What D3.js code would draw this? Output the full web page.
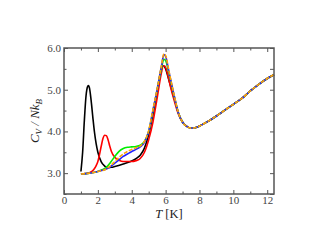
<!DOCTYPE html>
<html>
<head>
<meta charset="utf-8">
<script src="https://cdn.jsdelivr.net/npm/d3@7"></script>
<style>
  body { margin: 0; background: #fff; }
  text { font-family: "Liberation Serif", "DejaVu Serif", serif; }
</style>
</head>
<body>
<script>
//constants
const w = 314;
const h = 243;
const mLeft = 64, mRight = 274, mTop = 48, mBottom = 194;

// shared high-T tail
const tailT = [7.5, 7.75, 8, 8.5, 9, 9.5, 10, 10.5, 11, 11.5, 12, 12.4];
const tailC = [4.08, 4.09, 4.13, 4.24, 4.37, 4.51, 4.65, 4.79, 4.97, 5.13, 5.27, 5.36];

const blackT = [1.0, 1.1, 1.2, 1.3, 1.4, 1.45, 1.5, 1.6, 1.7, 1.8, 1.9, 2.0, 2.2, 2.4, 2.6, 2.8, 3.0, 3.5, 4.0, 4.3, 4.5, 4.75, 5.0, 5.25, 5.5, 5.7, 5.8, 5.9, 6.0, 6.2, 6.5, 6.75, 7.0, 7.25];
const blackC = [3.04, 3.5, 4.25, 4.85, 5.08, 5.1, 5.05, 4.75, 4.35, 3.98, 3.7, 3.5, 3.27, 3.17, 3.13, 3.14, 3.16, 3.22, 3.29, 3.36, 3.43, 3.6, 3.92, 4.4, 4.95, 5.42, 5.57, 5.57, 5.5, 5.22, 4.8, 4.45, 4.23, 4.12];

const redT = [1.0, 1.25, 1.5, 1.75, 1.9, 2.0, 2.1, 2.2, 2.3, 2.4, 2.5, 2.6, 2.7, 2.8, 3.0, 3.25, 3.5, 4.0, 4.25, 4.5, 4.75, 5.0, 5.25, 5.5, 5.75, 5.85, 5.95, 6.1, 6.3, 6.5, 6.75, 7.0, 7.25];
const redC = [2.98, 2.99, 3.01, 3.08, 3.18, 3.28, 3.45, 3.65, 3.83, 3.91, 3.9, 3.8, 3.65, 3.52, 3.38, 3.31, 3.28, 3.28, 3.3, 3.35, 3.5, 3.8, 4.22, 4.8, 5.4, 5.56, 5.57, 5.4, 5.05, 4.75, 4.42, 4.22, 4.12];

const greenT = [1.0, 1.5, 2.0, 2.25, 2.5, 2.75, 3.0, 3.25, 3.5, 3.75, 4.0, 4.25, 4.5, 4.75, 5.0, 5.25, 5.5, 5.75, 5.9, 6.0, 6.2, 6.5, 6.75, 7.0, 7.25];
const greenC = [2.98, 3.0, 3.04, 3.08, 3.14, 3.26, 3.4, 3.52, 3.59, 3.62, 3.63, 3.64, 3.67, 3.76, 4.0, 4.48, 5.0, 5.5, 5.73, 5.7, 5.38, 4.85, 4.45, 4.22, 4.12];

const blueT = [1.0, 1.5, 2.0, 2.5, 2.75, 3.0, 3.25, 3.5, 3.75, 4.0, 4.25, 4.5, 4.75, 5.0, 5.25, 5.5, 5.75, 5.9, 6.0, 6.2, 6.5, 6.75, 7.0, 7.25];
const blueC = [2.98, 3.0, 3.04, 3.1, 3.16, 3.24, 3.32, 3.4, 3.46, 3.52, 3.57, 3.63, 3.74, 4.0, 4.5, 5.0, 5.55, 5.84, 5.8, 5.42, 4.87, 4.45, 4.22, 4.12];

const orangeT = [1.0, 1.5, 2.0, 2.5, 2.75, 3.0, 3.25, 3.5, 3.75, 4.0, 4.25, 4.5, 4.75, 5.0, 5.25, 5.5, 5.75, 5.9, 6.0, 6.2, 6.5, 6.75, 7.0, 7.25];
const orangeC = [2.98, 3.0, 3.04, 3.1, 3.18, 3.28, 3.38, 3.46, 3.52, 3.57, 3.61, 3.65, 3.76, 4.02, 4.52, 5.02, 5.57, 5.86, 5.82, 5.44, 4.88, 4.46, 4.22, 4.12];

const xTicks = [0, 2, 4, 6, 8, 10, 12];
const xMinor = [1, 3, 5, 7, 9, 11];
const yTicks = [3.0, 4.0, 5.0, 6.0];
const yMinor = [2.5, 3.5, 4.5, 5.5];

const series = [
  {T: blackT, C: blackC, color: "#000000", dash: null},
  {T: redT, C: redC, color: "#ff0000", dash: null},
  {T: greenT, C: greenC, color: "#00ee00", dash: null},
  {T: blueT, C: blueC, color: "#2222ff", dash: null},
  {T: orangeT, C: orangeC, color: "#ffa500", dash: "4,1.5"}
];

const xScale = d3.scaleLinear().domain([0, 12.4]).range([mLeft, mRight]);
const yScale = d3.scaleLinear().domain([2.5, 6.0]).range([mBottom, mTop]);

const svg = d3.select("body").append("svg")
  .attr("width", w)
  .attr("height", h);

const line = d3.line()
  .x(d => xScale(d[0]))
  .y(d => yScale(d[1]))
  .curve(d3.curveMonotoneX);

series.forEach(s => {
  const pts = s.T.map((t, i) => [t, s.C[i]]).concat(tailT.map((t, i) => [t, tailC[i]]));
  svg.append("path")
    .datum(pts)
    .attr("d", line)
    .attr("fill", "none")
    .attr("stroke", s.color)
    .attr("stroke-width", 1.6)
    .attr("stroke-dasharray", s.dash);
});

//axes
const axisColor = "#555";
function styleAxis(g) {
  g.attr("font-family", "Liberation Serif, serif");
  g.select(".domain").remove();
  g.selectAll("line").attr("stroke", axisColor).attr("stroke-width", 1);
  g.selectAll("text").attr("fill", "#444").style("font-size", "11px")
    .style("font-family", "'Liberation Serif', serif");
}

svg.append("g").attr("transform", "translate(0," + mBottom + ")")
  .call(d3.axisBottom(xScale).tickValues(xTicks).tickSize(-4).tickPadding(2).tickFormat(d3.format("d")))
  .call(styleAxis);
svg.append("g").attr("transform", "translate(0," + mBottom + ")")
  .call(d3.axisBottom(xScale).tickValues(xMinor).tickSize(-2.5).tickFormat(""))
  .call(styleAxis);
svg.append("g").attr("transform", "translate(0," + mTop + ")")
  .call(d3.axisTop(xScale).tickValues(xTicks).tickSize(-4).tickFormat(""))
  .call(styleAxis);
svg.append("g").attr("transform", "translate(0," + mTop + ")")
  .call(d3.axisTop(xScale).tickValues(xMinor).tickSize(-2.5).tickFormat(""))
  .call(styleAxis);

svg.append("g").attr("transform", "translate(" + mLeft + ",0)")
  .call(d3.axisLeft(yScale).tickValues(yTicks).tickSize(-4).tickPadding(3).tickFormat(d3.format(".1f")))
  .call(styleAxis);
svg.append("g").attr("transform", "translate(" + mLeft + ",0)")
  .call(d3.axisLeft(yScale).tickValues(yMinor).tickSize(-2.5).tickFormat(""))
  .call(styleAxis);
svg.append("g").attr("transform", "translate(" + mRight + ",0)")
  .call(d3.axisRight(yScale).tickValues(yTicks.concat(yMinor)).tickSize(-4).tickFormat(""))
  .call(styleAxis);

//frame
svg.append("rect")
  .attr("x", mLeft).attr("y", mTop)
  .attr("width", mRight - mLeft).attr("height", mBottom - mTop)
  .attr("fill", "none").attr("stroke", axisColor).attr("stroke-width", 1.5);

//labels
const xl = svg.append("text")
  .attr("x", (mLeft + mRight) / 2).attr("y", 218)
  .attr("text-anchor", "middle")
  .style("font-size", "12.5px").attr("fill", "#222");
xl.append("tspan").style("font-style", "italic").text("T");
xl.append("tspan").text(" [K]");

const yl = svg.append("text")
  .attr("transform", "translate(39," + ((mTop + mBottom) / 2) + ") rotate(-90)")
  .attr("text-anchor", "middle")
  .style("font-size", "13px").style("font-style", "italic").attr("fill", "#222");
yl.append("tspan").text("C");
yl.append("tspan").attr("dy", 3).style("font-size", "9px").text("V");
yl.append("tspan").attr("dy", -3).text(" / Nk");
yl.append("tspan").attr("dy", 3).style("font-size", "9px").text("B");
</script>
</body>
</html>
